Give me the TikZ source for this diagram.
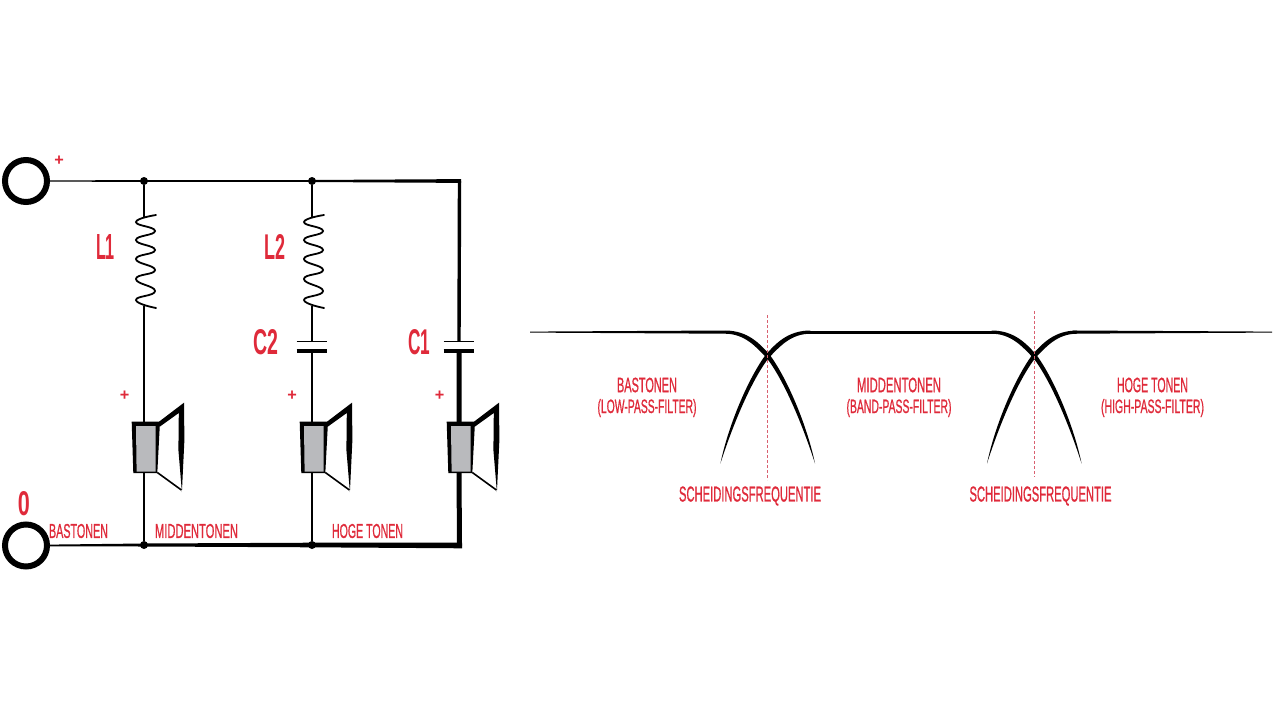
\documentclass[tikz,border=0pt]{standalone}
\usepackage{fontspec}
\setmainfont{Liberation Sans}
\newfontface\labfont{Liberation Sans}[FakeBold=1.2]
\usetikzlibrary{calc}
\definecolor{lab}{HTML}{DF2A3A}
\definecolor{dashc}{HTML}{D9606F}
\definecolor{cone}{HTML}{B9BABD}
\newcommand{\fitlab}[3]{\resizebox{#1pt}{#2pt}{\labfont #3}}
\newcommand{\fitbig}[3]{\resizebox{#1pt}{#2pt}{\bfseries #3}}
\tikzset{
  txt/.style={inner sep=0pt,outer sep=0pt,text=lab,anchor=center},
  term/.style={circle,draw=black,line width=6pt,minimum size=42pt,inner sep=0pt,outer sep=3pt},
  jdot/.style={circle,fill=black,minimum size=8pt,inner sep=0pt},
  thinw/.style={line width=1.7pt,draw=black},
  thickw/.style={line width=5pt,draw=black},
  midw/.style={line width=3.4pt,draw=black},
  coil/.style={line width=1.8pt,draw=black,line cap=round},
  sep/.style={line width=1.1pt,draw=dashc,dash pattern=on 3pt off 2pt},
}
\newcommand{\speakerat}[1]{%
  \begin{scope}[shift={(#1,0)}]
    \fill[black] (-12.3,421.7) -- (16,421.7) -- (13.3,473) -- (-10.7,473) -- cycle;
    \fill[cone] (-8,426) -- (11.7,426) -- (11.7,471.5) -- (-7.4,471.5) -- cycle;
    \fill[black] (15,421.7) -- (40,402.7) -- (40.4,440) -- (37.9,492) -- (34.4,450) -- (34.8,413) -- (16,426.5) -- cycle;
    \draw[black,line width=1.6pt,line join=miter] (13.3,472.5) -- (37.4,490);
  \end{scope}}
\newcommand{\coilat}[1]{%
  \draw[coil,shift={(#1,0)}] plot[smooth,tension=0.9] coordinates {(12,215) (-8,222) (11,231) (-8,240) (11,250) (-8,259) (11,270) (-8,279) (11,291) (-8,300) (12,308)};}
\newcommand{\fallcurve}{%
  \fill[black] (725,330.5) .. controls (748,330.5) and (760,344) .. (769.5,354.5) .. controls (787,378) and (807,425) .. (815,463.5) .. controls (803,426) and (784,380) .. (766.3,357.5) .. controls (756,347) and (745,333.8) .. (725,333.7) -- cycle;}
\begin{document}
\begin{tikzpicture}[x=1pt,y=-1pt]
\useasboundingbox (0,0) rectangle (1280,720);
% terminals and junctions
\node[term] (tp) at (26,181) {};
\node[term] (tm) at (26,545.5) {};
\node[jdot] (j1) at (144,181) {};
\node[jdot] (j2) at (312,181) {};
\node[jdot] (j3) at (144,545) {};
\node[jdot] (j4) at (312,545) {};
\coordinate (tr) at (459.5,181);
\coordinate (br) at (459.5,545.5);
% branch points
\coordinate (l1a) at (144,218);
\coordinate (l1b) at (144,306);
\coordinate (s1t) at (144,423);
\coordinate (s1b) at (144,472);
\coordinate (l2a) at (312,218);
\coordinate (l2b) at (312,306);
\coordinate (c2t) at (312,341.3);
\coordinate (c2b) at (312,351);
\coordinate (s2t) at (312,423);
\coordinate (s2b) at (312,472);
\coordinate (c1t) at (459,341.3);
\coordinate (c1b) at (459,351);
\coordinate (s3t) at (459,423);
\coordinate (s3b) at (459,472);
% tapered rails
\fill[black] ($(tp.east)+(0,-.7)$) -- ($(j2)+(0,-1)$) -- ($(tr)+(1.7,-1.9)$) -- ($(tr)+(1.7,1.9)$) -- ($(j2)+(0,1)$) -- ($(tp.east)+(0,.7)$) -- cycle;
\fill[black] ($(tm.east)+(0,-.9)$) -- ($(j3)+(0,-1.5)$) -- ($(j4)+(0,-2.3)$) -- ($(br)+(2.6,-2.8)$) -- ($(br)+(2.6,2.8)$) -- ($(j4)+(0,2.3)$) -- ($(j3)+(0,1.5)$) -- ($(tm.east)+(0,.9)$) -- cycle;
% branches
\draw[thinw] (j1) -- (l1a) (l1b) -- (s1t) (s1b) -- (j3);
\draw[thinw] (j2) -- (l2a) (l2b) -- (c2t) (c2b) -- (s2t) (s2b) -- (j4);
\draw[midw] (tr) -- (c1t);
\draw[thickw] (c1b) -- (s3t) (s3b) -- (br);
% coils
\coilat{144}
\coilat{312}
% capacitors
\draw[line width=1.6pt] ($(c2t)+(-15.3,0)$) -- ($(c2t)+(15.3,0)$);
\draw[line width=4pt] ($(c2b)+(-15.3,0)$) -- ($(c2b)+(15.3,0)$);
\draw[line width=1.6pt] ($(c1t)+(-15.3,0)$) -- ($(c1t)+(15.3,0)$);
\draw[line width=4pt] ($(c1b)+(-15.3,0)$) -- ($(c1b)+(15.3,0)$);
% speakers
\speakerat{144}
\speakerat{312}
\speakerat{459}
% circuit labels
\node[txt] (plusa) at (59,161) {\fitbig{9.5}{9.5}{+}};
\node[txt] (plusb) at (124.5,396) {\fitbig{9.5}{9.5}{+}};
\node[txt] (plusc) at (292,396) {\fitbig{9.5}{9.5}{+}};
\node[txt] (plusd) at (439.5,396) {\fitbig{9.5}{9.5}{+}};
\node[txt] (zero) at (24,504) {\fitbig{12}{24}{0}};
\node[txt] (ll1) at (105.5,247) {\fitbig{19}{25}{L1}};
\node[txt] (ll2) at (275,247) {\fitbig{21}{25}{L2}};
\node[txt] (lc2) at (266,342) {\fitbig{25}{25}{C2}};
\node[txt] (lc1) at (419,342) {\fitbig{22}{25}{C1}};
\node[txt] (b1) at (78.5,531) {\fitlab{59}{14}{BASTONEN}};
\node[txt] (b2) at (196.5,531) {\fitlab{83}{14}{MIDDENTONEN}};
\node[txt] (b3) at (367.5,531) {\fitlab{71}{14}{HOGE TONEN}};
% response curves
\fill[black] (530,331.6) -- (725,330.5) -- (725,333.7) -- (530,332.6) -- cycle;
\fill[black] (806,330.5) -- (1000,330.5) -- (1000,333.7) -- (806,333.7) -- cycle;
\fill[black] (1073,330.5) -- (1272,331.6) -- (1272,332.6) -- (1073,333.7) -- cycle;
\fallcurve
\begin{scope}[shift={(1535.4,0)},xscale=-1]\fallcurve\end{scope}
\begin{scope}[shift={(266.6,0)}]\fallcurve\end{scope}
\begin{scope}[shift={(1802,0)},xscale=-1]\fallcurve\end{scope}
\coordinate (d1a) at (767.7,315);
\coordinate (d1b) at (767.7,480);
\coordinate (d2a) at (1034.3,311);
\coordinate (d2b) at (1034.3,477);
\draw[sep] (d1a) -- (d1b);
\draw[sep] (d2a) -- (d2b);
% response labels
\node[txt] (r1) at (647,385) {\fitlab{60}{14.5}{BASTONEN}};
\node[txt] (r2) at (647,408) {\fitlab{99}{14}{(LOW-PASS-FILTER)}};
\node[txt] (r3) at (899,385) {\fitlab{84}{14.5}{MIDDENTONEN}};
\node[txt] (r4) at (899,408) {\fitlab{105}{14}{(BAND-PASS-FILTER)}};
\node[txt] (r5) at (1152.5,385) {\fitlab{71}{14.5}{HOGE TONEN}};
\node[txt] (r6) at (1152.5,408) {\fitlab{103}{14}{(HIGH-PASS-FILTER)}};
\node[txt] (r7) at (750,496) {\fitlab{142}{15}{SCHEIDINGSFREQUENTIE}};
\node[txt] (r8) at (1040.5,496) {\fitlab{142}{15}{SCHEIDINGSFREQUENTIE}};
\end{tikzpicture}
\end{document}
